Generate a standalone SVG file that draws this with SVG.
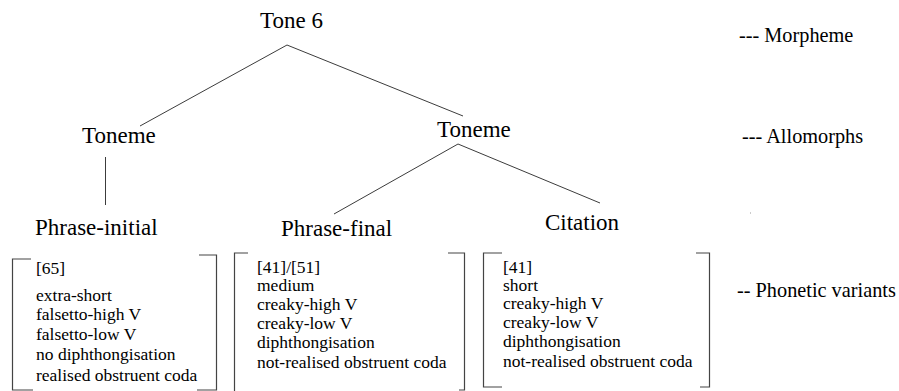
<svg xmlns="http://www.w3.org/2000/svg" width="899" height="391" viewBox="0 0 899 391">
<style>
text{font-family:'Liberation Serif','Tinos','Times New Roman','DejaVu Serif',serif;fill:#000}
.h{font-size:23px}
.lv{font-size:20.3px}
.t{font-size:17.5px}
.ln{stroke:#3c3c3c;stroke-width:1;fill:none}
.br{stroke:#444;stroke-width:1.2;fill:none}
</style>
<rect width="899" height="391" fill="#fff"/>
<g id="connectors">
<line class="ln" x1="287" y1="45" x2="140" y2="126"/>
<line class="ln" x1="287" y1="45" x2="463" y2="116"/>
<line class="ln" x1="105.5" y1="157" x2="105.5" y2="205"/>
<line class="ln" x1="458" y1="144" x2="334" y2="214"/>
<line class="ln" x1="458" y1="144" x2="600" y2="203"/>
</g>
<g id="tone6"><text class="h" x="260" y="28" font-family="Liberation Serif, serif">Tone 6</text></g>
<g id="toneme-left"><text class="h" x="82" y="143" font-family="Liberation Serif, serif">Toneme</text></g>
<g id="toneme-right"><text class="h" x="437" y="137" font-family="Liberation Serif, serif">Toneme</text></g>
<g id="phrase-initial"><text class="h" x="35" y="235" font-family="Liberation Serif, serif">Phrase-initial</text></g>
<g id="phrase-final"><text class="h" x="281" y="236" font-family="Liberation Serif, serif">Phrase-final</text></g>
<g id="citation"><text class="h" x="545" y="230" font-family="Liberation Serif, serif">Citation</text></g>
<g id="variants-initial" font-family="Liberation Serif, serif">
<path class="br" d="M31,259 H12.5 V390 H33"/>
<path class="br" d="M199,255 H216.5 V390 H197"/>
<text class="t" x="36" y="274">[65]</text>
<text class="t" x="36" y="301">extra-short</text>
<text class="t" x="36" y="320">falsetto-high V</text>
<text class="t" x="36" y="340">falsetto-low V</text>
<text class="t" x="36" y="360">no diphthongisation</text>
<text class="t" x="36" y="381">realised obstruent coda</text>
</g>
<g id="variants-final" font-family="Liberation Serif, serif">
<path class="br" d="M248,253 H234.5 V391"/>
<path class="br" d="M448,253 H464.5 V390 H459"/>
<text class="t" x="257" y="273">[41]/[51]</text>
<text class="t" x="257" y="291">medium</text>
<text class="t" x="257" y="310">creaky-high V</text>
<text class="t" x="257" y="329">creaky-low V</text>
<text class="t" x="257" y="348">diphthongisation</text>
<text class="t" x="257" y="368">not-realised obstruent coda</text>
</g>
<g id="variants-citation" font-family="Liberation Serif, serif">
<path class="br" d="M502,253 H483.5 V387 H502"/>
<path class="br" d="M696,253 H709.5 V387 H700"/>
<text class="t" x="503" y="273">[41]</text>
<text class="t" x="503" y="291">short</text>
<text class="t" x="503" y="309">creaky-high V</text>
<text class="t" x="503" y="328">creaky-low V</text>
<text class="t" x="503" y="347">diphthongisation</text>
<text class="t" x="503" y="367">not-realised obstruent coda</text>
</g>
<g id="levels" font-family="Liberation Serif, serif">
<text class="lv" x="739" y="42">--- Morpheme</text>
<text class="lv" x="742" y="143">--- Allomorphs</text>
<rect x="750" y="212.5" width="1" height="1" fill="#999"/>
<text class="lv" x="737" y="297">-- Phonetic variants</text>
</g>
</svg>
